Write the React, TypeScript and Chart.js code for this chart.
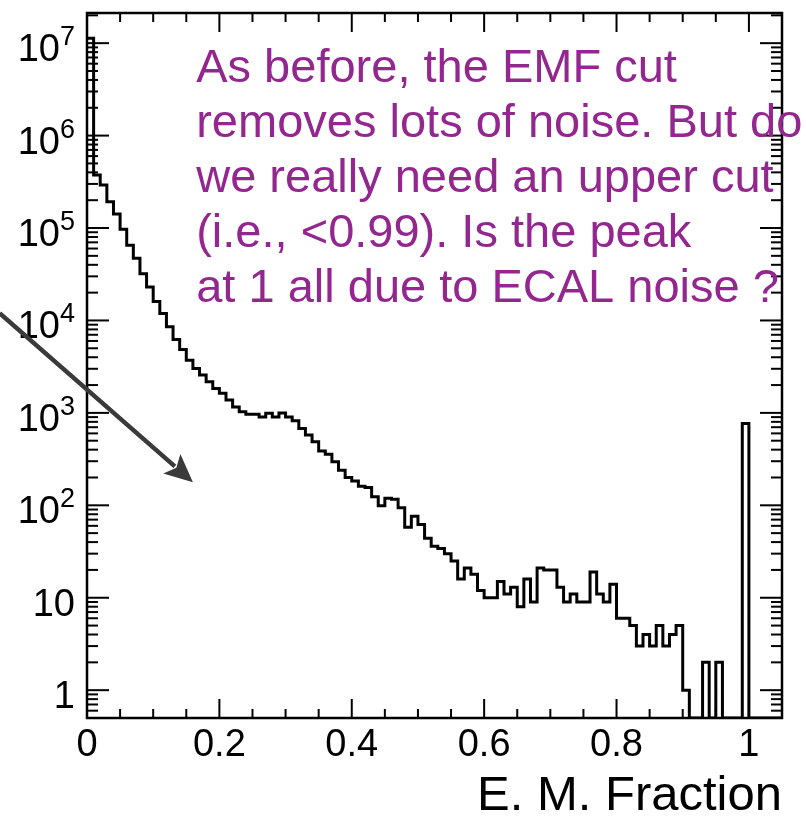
import React, { useEffect, useRef } from 'react';
import { Chart, registerables } from 'chart.js';

Chart.register(...registerables);

// ---------------- data ----------------
const BIN_WIDTH = 0.01;
const X_MIN = 0;
const X_MAX = 1.05;
const Y_MIN = 0.5;
const Y_MAX = 2.12e7;

// bin contents, bins of 0.01 starting at 0
const counts: number[] = [
  1.13e7, 3.75e5, 2.92e5, 1.93e5, 1.42e5, 9.7e4, 6.5e4, 4.7e4, 3.2e4, 2.3e4,
  1.6e4, 1.19e4, 8550, 6240, 4860, 3720, 3030, 2570, 2170, 1840,
  1630, 1380, 1160, 1030, 964, 964, 901, 988, 901, 1000,
  901, 822, 679, 575, 487, 386, 356, 296, 240, 200,
  183, 161, 156, 124, 99, 119, 116, 94, 58, 76,
  62, 44, 36, 34, 30, 25, 16, 21, 18, 12,
  10, 10, 15, 11, 13, 8, 16, 9, 21, 20,
  20, 13, 9, 11, 9, 9, 19, 11, 9, 14,
  6, 6, 5, 3, 4, 3, 5, 3, 4, 5,
  1, 0, 0, 2, 0, 2, 0, 0, 0, 770,
  0, 0, 0, 0, 0,
];

const xTickValues = [0, 0.2, 0.4, 0.6, 0.8, 1];
const xTickLabels = ['0', '0.2', '0.4', '0.6', '0.8', '1'];
const yTickValues = [1, 10, 1e2, 1e3, 1e4, 1e5, 1e6, 1e7];
const yTickBase = ['1', '10', '10', '10', '10', '10', '10', '10'];
const yTickExp = ['', '', '2', '3', '4', '5', '6', '7'];
const xTitle = 'E. M. Fraction';

const noteLines = [
  'As before, the EMF cut',
  'removes lots of noise. But do',
  'we really need an upper cut',
  '(i.e., <0.99). Is the peak',
  'at 1 all due to ECAL noise ?',
];
const noteAnchorX = 0.165; // data x of the text's left edge
const arrowFrom = { x: -0.132, y: 1.2e4 };
const arrowTo = { x: 0.16, y: 178 };

const FONT = "'Liberation Sans', Arial, Helvetica, sans-serif";

function App() {
  const canvasRef = useRef<HTMLCanvasElement | null>(null);

  useEffect(() => {
    const canvas = canvasRef.current;
    if (!canvas) return;

    const points: { x: number; y: number }[] = [];
    counts.forEach((v, i) => {
      const shown = Math.max(v, Y_MIN);
      points.push({ x: i * BIN_WIDTH, y: shown });
      points.push({ x: (i + 1) * BIN_WIDTH, y: shown });
    });

    const rootFrame = {
      id: 'rootFrame',
      afterDraw(chart: any) {
        const { ctx, chartArea: a, scales } = chart;
        const xs = scales.x;
        const ys = scales.y;
        const seg = (x1: number, y1: number, x2: number, y2: number) => {
          ctx.beginPath();
          ctx.moveTo(x1, y1);
          ctx.lineTo(x2, y2);
          ctx.stroke();
        };
        ctx.save();
        ctx.strokeStyle = '#000';
        ctx.lineWidth = 2;
        // y ticks (inside frame, left and right)
        for (let e = -1; e <= 8; e++) {
          for (let k = 1; k <= 9; k++) {
            const v = k * Math.pow(10, e);
            if (v < Y_MIN * 1.01 || v > Y_MAX) continue;
            const py = ys.getPixelForValue(v);
            const len = k === 1 ? 22 : 11;
            seg(a.left, py, a.left + len, py);
            seg(a.right, py, a.right - len, py);
          }
        }
        // x ticks (inside frame, bottom and top)
        for (let i = 0; i * 0.05 <= X_MAX + 1e-9; i++) {
          const v = i * 0.05;
          const px = xs.getPixelForValue(v);
          const len = i % 4 === 0 ? 19 : 9;
          seg(px, a.bottom, px, a.bottom - len);
          seg(px, a.top, px, a.top + len);
        }
        // frame
        ctx.lineWidth = 2.5;
        ctx.strokeRect(a.left, a.top, a.right - a.left, a.bottom - a.top);

        // y tick labels with real superscripts
        ctx.fillStyle = '#000';
        ctx.textBaseline = 'alphabetic';
        yTickValues.forEach((v, i) => {
          const py = ys.getPixelForValue(v);
          const right = a.left - 12;
          const base = yTickBase[i];
          const exp = yTickExp[i];
          ctx.font = `27px ${FONT}`;
          const ew = exp ? ctx.measureText(exp).width : 0;
          ctx.textAlign = 'right';
          if (exp) ctx.fillText(exp, right, py + 2);
          ctx.font = `38px ${FONT}`;
          ctx.fillText(base, right - ew, py + 18);
        });

        // arrow
        const x0 = xs.getPixelForValue(arrowFrom.x);
        const y0 = ys.getPixelForValue(arrowFrom.y);
        const x1 = xs.getPixelForValue(arrowTo.x);
        const y1 = ys.getPixelForValue(arrowTo.y);
        const ang = Math.atan2(y1 - y0, x1 - x0);
        const headLen = 28;
        const headHalf = 13;
        ctx.strokeStyle = '#3a3a3a';
        ctx.fillStyle = '#3a3a3a';
        ctx.lineWidth = 4.5;
        ctx.beginPath();
        ctx.moveTo(x0, y0);
        ctx.lineTo(x1 - Math.cos(ang) * (headLen - 4), y1 - Math.sin(ang) * (headLen - 4));
        ctx.stroke();
        const bx = x1 - Math.cos(ang) * headLen;
        const by = y1 - Math.sin(ang) * headLen;
        const nx = Math.cos(ang) * (headLen - 6);
        const ny = Math.sin(ang) * (headLen - 6);
        ctx.beginPath();
        ctx.moveTo(x1, y1);
        ctx.lineTo(bx - Math.sin(ang) * headHalf, by + Math.cos(ang) * headHalf);
        ctx.lineTo(x1 - nx, y1 - ny);
        ctx.lineTo(bx + Math.sin(ang) * headHalf, by - Math.cos(ang) * headHalf);
        ctx.closePath();
        ctx.fill();

        // annotation text
        ctx.fillStyle = '#93278f';
        ctx.font = `47px ${FONT}`;
        ctx.textAlign = 'left';
        ctx.textBaseline = 'alphabetic';
        const tx = xs.getPixelForValue(noteAnchorX);
        noteLines.forEach((line, i) => {
          ctx.fillText(line, tx, a.top + 69 + i * 55);
        });
        ctx.restore();
      },
    };

    const chart = new Chart(canvas, {
      type: 'line',
      data: {
        datasets: [
          {
            data: points,
            borderColor: '#000',
            borderWidth: 3,
            pointRadius: 0,
            fill: false,
            tension: 0,
            borderJoinStyle: 'miter',
          } as any,
        ],
      },
      options: {
        animation: false,
        responsive: false,
        devicePixelRatio: 1,
        parsing: false,
        normalized: true,
        layout: { padding: { left: 0, top: 13, right: 24, bottom: 0 } },
        plugins: {
          legend: { display: false },
          tooltip: { enabled: false },
        },
        scales: {
          x: {
            type: 'linear',
            min: X_MIN,
            max: X_MAX,
            afterBuildTicks: (s: any) => {
              s.ticks = xTickValues.map((v) => ({ value: v }));
            },
            afterFit: (s: any) => {
              s.height = 98;
              s.paddingLeft = 0;
              s.paddingRight = 0;
            },
            ticks: {
              autoSkip: false,
              maxRotation: 0,
              minRotation: 0,
              padding: 5,
              color: '#000',
              font: { size: 38, family: FONT },
              callback: (v: any) => {
                const i = xTickValues.findIndex((t) => Math.abs(t - Number(v)) < 1e-9);
                return i >= 0 ? xTickLabels[i] : '';
              },
            },
            grid: { display: false, drawTicks: false },
            border: { display: false },
            title: {
              display: true,
              text: xTitle,
              align: 'end',
              color: '#000',
              font: { size: 49, family: FONT, lineHeight: 0.8 },
              padding: 0,
            },
          },
          y: {
            type: 'logarithmic',
            min: Y_MIN,
            max: Y_MAX,
            afterBuildTicks: (s: any) => {
              s.ticks = yTickValues.map((v) => ({ value: v }));
            },
            afterFit: (s: any) => {
              s.width = 87;
              s.paddingTop = 0;
              s.paddingBottom = 0;
            },
            ticks: { display: false },
            grid: { display: false, drawTicks: false },
            border: { display: false },
          },
        },
      } as any,
      plugins: [rootFrame],
    });

    return () => {
      chart.destroy();
    };
  }, []);

  return (
    <div style={{ position: 'absolute', left: 0, top: 0, width: 806, height: 816, background: '#fff' }}>
      <canvas ref={canvasRef} width={806} height={816} style={{ display: 'block' }} />
    </div>
  );
}

export default App;
